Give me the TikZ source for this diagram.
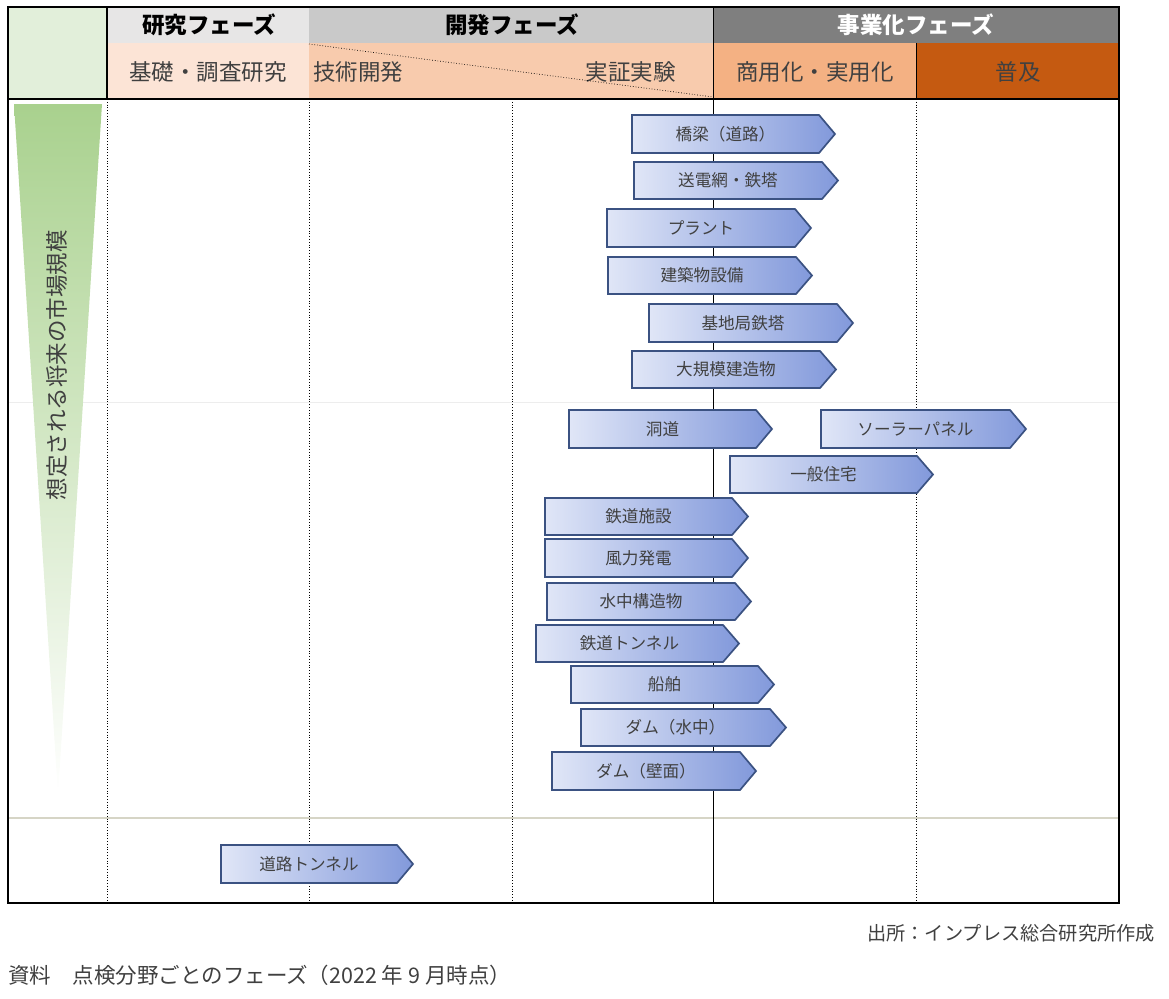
\documentclass[tikz,border=0pt]{standalone}
\usepackage{fontspec}
\setmainfont{Noto Sans CJK JP}
\definecolor{cGreenHead}{HTML}{E2EFDA}
\definecolor{cResHead}{HTML}{E7E6E6}
\definecolor{cDevHead}{HTML}{C9C9C9}
\definecolor{cBizHead}{HTML}{7F7F7F}
\definecolor{cSub1}{HTML}{FCE4D6}
\definecolor{cSub2}{HTML}{F8CBAD}
\definecolor{cSub3}{HTML}{F4B183}
\definecolor{cSub4}{HTML}{C55A11}
\definecolor{cTxt}{HTML}{404040}
\definecolor{cArrL}{HTML}{E0E6F7}
\definecolor{cArrR}{HTML}{8299DB}
\definecolor{cArrBorder}{HTML}{3B5282}
\definecolor{cTriTop}{HTML}{A9D18E}
\definecolor{cTriMid}{HTML}{CFE5C0}
\definecolor{cLineA}{HTML}{EDEDED}
\definecolor{cLineB}{HTML}{D6D5C6}
\tikzset{
  headone/.style={inner sep=0pt, font=\fontsize{22.5}{24}\selectfont\bfseries},
  headtwo/.style={inner sep=0pt, text=cTxt, font=\fontsize{22.5}{24}\selectfont},
  arrowbox/.style={draw=cArrBorder, line width=1.7pt, left color=cArrL, right color=cArrR, line join=miter},
  arrowtext/.style={inner sep=0pt, text=cTxt, font=\fontsize{16.6}{18}\selectfont},
  gridline/.style={line width=0.8pt, dotted, black},
  notetext/.style={inner sep=0pt, text=cTxt, font=\fontsize{19.2}{21}\selectfont},
}
\newcommand\tagarrow[6]{%
  \pgfmathsetmacro\ymid{(#4+#5)/2}%
  \pgfmathsetmacro\xmid{(#2+#3-16)/2}%
  \shadedraw[arrowbox] (#2,#4) -- (#3-16,#4) -- (#3,\ymid) -- (#3-16,#5) -- (#2,#5) -- cycle;
  \node[arrowtext] (#1) at (\xmid,\ymid) {#6};
}
\begin{document}
\begin{tikzpicture}[x=1pt,y=-1pt]
\useasboundingbox (0,0) rectangle (1169,998);
% header fills
\fill[cGreenHead] (8,7) rectangle (107,99);
\fill[cResHead] (107,7) rectangle (309,43);
\fill[cDevHead] (309,7) rectangle (713,43);
\fill[cBizHead] (713,7) rectangle (1119,43);
\fill[cSub1] (107,43) rectangle (309,99);
\fill[cSub2] (309,43) rectangle (713,99);
\fill[cSub3] (713,43) rectangle (916,99);
\fill[cSub4] (916,43) rectangle (1119,99);
% header texts
\node[headone] (hres) at (209,25) {研究フェーズ};
\node[headone] (hdev) at (512,25) {開発フェーズ};
\node[headone, text=white] (hbiz) at (916,25) {事業化フェーズ};
\node[headtwo] (sres) at (208,72) {基礎・調査研究};
\node[headtwo, anchor=west] (stech) at (313,72) {技術開発};
\node[headtwo, anchor=east] (sdemo) at (676,72) {実証実験};
\node[headtwo] (scom) at (815,72) {商用化・実用化};
\node[headtwo] (sspread) at (1018,72) {普及};
\draw[line width=0.7pt, dotted] (309,44) -- (713,97);
% header lines
\draw[line width=2pt] (107,7) -- (107,99);
\draw[line width=0.8pt] (713,7) -- (713,99);
\draw[line width=0.6pt] (916,43) -- (916,99);
% horizontal light lines
\draw[cLineA, line width=1pt] (8,402) -- (1119,402);
\draw[cLineB, line width=1.2pt] (8,818) -- (1119,818);
% body vertical lines
\draw[gridline] (107,99) -- (107,903);
\draw[gridline] (309,99) -- (309,903);
\draw[gridline] (512,99) -- (512,903);
\draw[line width=0.9pt] (713,99) -- (713,903);
\draw[gridline] (916,99) -- (916,903);
% triangle
\shade[top color=cTriTop, middle color=cTriMid, bottom color=white] (14,104) -- (102,104) -- (58,795) -- cycle;
\node[rotate=90, inner sep=0pt, text=cTxt, font=\fontsize{22.5}{24}\selectfont] (market) at (57,365) {想定される将来の市場規模};
% arrows
\tagarrow{a1}{632}{835}{115}{153}{橋梁（道路）}
\tagarrow{a2}{634}{838}{162}{199}{送電網・鉄塔}
\tagarrow{a3}{607}{811}{209}{247}{プラント}
\tagarrow{a4}{608}{812}{257}{294}{建築物設備}
\tagarrow{a5}{649}{853}{304}{342}{基地局鉄塔}
\tagarrow{a6}{632}{836}{351}{388}{大規模建造物}
\tagarrow{a7}{569}{772}{410}{448}{洞道}
\tagarrow{a8}{821}{1026}{410}{448}{ソーラーパネル}
\tagarrow{a9}{730}{933}{456}{493}{一般住宅}
\tagarrow{a10}{545}{748}{498}{535}{鉄道施設}
\tagarrow{a11}{545}{748}{539}{577}{風力発電}
\tagarrow{a12}{547}{751}{583}{620}{水中構造物}
\tagarrow{a13}{536}{739}{625}{662}{鉄道トンネル}
\tagarrow{a14}{571}{774}{666}{703}{船舶}
\tagarrow{a15}{581}{786}{709}{746}{ダム（水中）}
\tagarrow{a16}{552}{756}{752}{790}{ダム（壁面）}
\tagarrow{a17}{221}{413}{845}{883}{道路トンネル}
% outer border and header bottom
\draw[line width=1.6pt] (8,99) -- (1119,99);
\draw[line width=2pt] (8,7) rectangle (1119,903);
% notes
\node[notetext, anchor=east] (source) at (1155,933) {出所：インプレス総合研究所作成};
\node[notetext, anchor=west, font=\fontsize{21.5}{23}\selectfont] (caption) at (8,975) {資料　点検分野ごとのフェーズ（2022 年 9 月時点）};
\end{tikzpicture}
\end{document}
